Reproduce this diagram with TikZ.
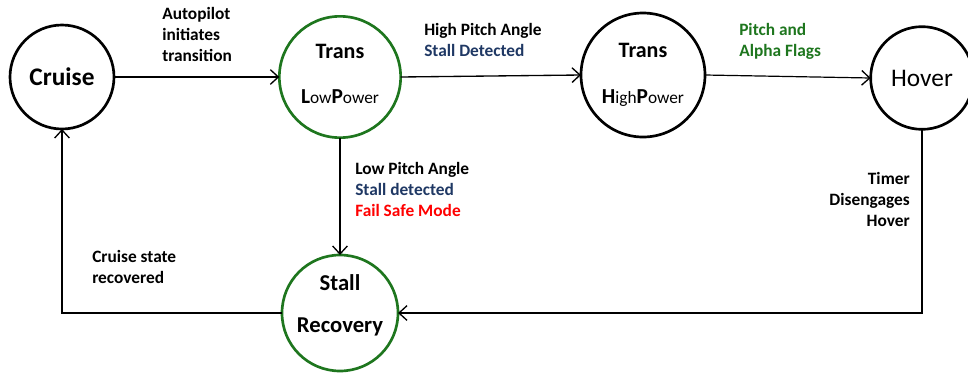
\documentclass[tikz,border=0pt]{standalone}
\usepackage{fontspec}
\setmainfont{Carlito}
\usetikzlibrary{arrows.meta,positioning}
\definecolor{mgreen}{RGB}{30,118,30}
\definecolor{mblue}{RGB}{31,56,100}
\definecolor{mred}{RGB}{255,0,0}
\tikzset{
    >={Straight Barb[length=6pt,width=11pt,line width=1pt]},
    tilstand/.style={
           circle,
           draw=black, line width=2pt,
           inner sep=0pt, outer sep=0pt,
           align=center,
           text centered},
    pil/.style={
           ->,
           line width=1.5pt},
    tekst/.style={
           font=\fontsize{13}{15.8}\selectfont\bfseries,
           inner sep=0pt}
}
\newcommand{\stor}[1]{{\fontsize{16}{18}\selectfont\bfseries #1}}
\newcommand{\lille}[1]{{\fontsize{13}{15}\selectfont #1}}

\begin{document}
\begin{tikzpicture}[x=0.75pt,y=-0.75pt]
          \useasboundingbox (0,0) rectangle (968,372);
          % states
          \node[tilstand, minimum size=78pt, font=\fontsize{19}{21}\selectfont\bfseries] (cruise) at (62,77) {Cruise};
          \node[tilstand, draw=mgreen, minimum size=91pt, text depth=5pt] (translow) at (340,77)
               {{\fontsize{16.5}{19}\selectfont\bfseries Trans}\\[22pt]\stor{L}\lille{ow}\stor{P}\lille{ower}};
          \node[tilstand, minimum size=93pt] (transhigh) at (643,75)
               {{\fontsize{16.5}{19}\selectfont\bfseries Trans}\\[22pt]\stor{H}\lille{igh}\stor{P}\lille{ower}};
          \node[tilstand, minimum size=77pt, font=\fontsize{19}{21}\selectfont] (hover) at (922,78) {Hover};
          \node[tilstand, draw=mgreen, minimum size=87pt, text depth=14pt, font=\fontsize{17}{19}\selectfont\bfseries] (stall) at (340,313)
               {Stall\\[13pt]Recovery};
          % transitions
          \draw[pil] (cruise.east) -- (translow.west);
          \draw[pil, line width=1pt] (translow.east) -- (transhigh.west);
          \draw[pil, line width=0.9pt] (transhigh.east) -- (hover.west);
          \draw[pil] (translow.south) -- (stall.north);
          \draw[pil] (hover.south) |- (stall.east);
          \draw[pil] (stall.west) -| (cruise.south);
          % labels
          \node[tekst, anchor=north west, align=left] (lauto) at (162,7) {Autopilot\\initiates\\transition};
          \node[tekst, anchor=north west, align=left] (lhigh) at (424,23) {High Pitch Angle\\\textcolor{mblue}{Stall Detected}};
          \node[tekst, anchor=north west, align=left, text=mgreen] (lflags) at (739,23) {Pitch and\\Alpha Flags};
          \node[tekst, anchor=north west, align=left] (llow) at (355,162)
               {Low Pitch Angle\\\textcolor{mblue}{Stall detected}\\\textcolor{mred}{Fail Safe Mode}};
          \node[tekst, anchor=north west, align=left] (lrec) at (92,250) {Cruise state\\recovered};
          \node[tekst, anchor=north east, align=right] (ltimer) at (910,172) {Timer\\Disengages\\Hover};
\end{tikzpicture}
\end{document}
